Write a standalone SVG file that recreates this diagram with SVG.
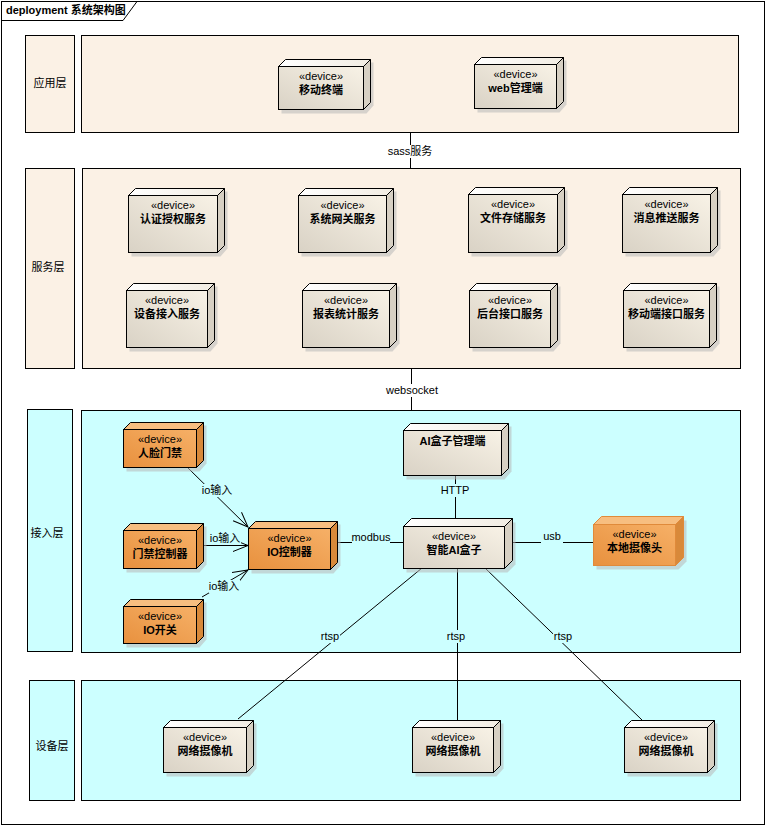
<svg xmlns="http://www.w3.org/2000/svg" width="766" height="826" viewBox="0 0 766 826">
<defs>
<linearGradient id="gFront" x1="0" y1="1" x2="1" y2="0">
<stop offset="0" stop-color="#D9D2C5"/><stop offset="1" stop-color="#F8F2E6"/>
</linearGradient>
<linearGradient id="gTop" x1="0" y1="0" x2="1" y2="0">
<stop offset="0" stop-color="#FFFFFF"/><stop offset="1" stop-color="#F1ECE2"/>
</linearGradient>
<linearGradient id="gOFront" x1="0" y1="1" x2="1" y2="0">
<stop offset="0" stop-color="#E8913E"/><stop offset="1" stop-color="#F6B067"/>
</linearGradient>
<marker id="open" viewBox="-16 -8 18 16" refX="0" refY="0" markerWidth="18" markerHeight="16" markerUnits="userSpaceOnUse" orient="auto">
<path d="M-15,-6 L0,0 L-15,6" fill="none" stroke="#000" stroke-width="1"/>
</marker>
<style>
text{font-family:"Liberation Sans","Noto Sans CJK SC",sans-serif;font-size:11px;fill:#000}
.b{font-weight:bold}
.c{text-anchor:middle}
.frame{fill:#fff;stroke:#000;stroke-width:1}
.cream{fill:#FBF1E5;stroke:#000;stroke-width:1}
.cyan{fill:#CCFFFF;stroke:#000;stroke-width:1}
.sh{fill:#B8B8B8;opacity:0.55}
.top{fill:url(#gTop);stroke:#000;stroke-width:1;stroke-linejoin:round}
.side{fill:#D7D0C3;stroke:#000;stroke-width:1;stroke-linejoin:round}
.front{fill:url(#gFront);stroke:#000;stroke-width:1}
.otop{fill:#F7BE80;stroke:#000;stroke-width:1;stroke-linejoin:round}
.oside{fill:#D8893A;stroke:#000;stroke-width:1;stroke-linejoin:round}
.ofront{fill:url(#gOFront);stroke:#000;stroke-width:1}
.lc .otop,.lc .oside,.lc .ofront{stroke:#E08A3A}
.conn line{stroke:#000;stroke-width:1}
.lbw{fill:#fff}
.lbc{fill:#CCFFFF}
</style>
</defs>

<!-- outer frame -->
<rect class="frame" x="1.5" y="1.5" width="763" height="823"/>
<path d="M1.5,20.5 H123 L137,1.5" fill="none" stroke="#000"/>
<text class="b" x="6" y="14">deployment 系统架构图</text>

<!-- layers -->
<g id="layer-app">
<rect class="cream" x="25.5" y="35.5" width="49" height="97"/>
<text class="c" x="50" y="87">应用层</text>
<rect class="cream" x="81.5" y="35.5" width="657" height="97"/>
</g>
<g id="layer-service">
<rect class="cream" x="25.5" y="168.5" width="49" height="200"/>
<text class="c" x="48" y="271">服务层</text>
<rect class="cream" x="82.5" y="168.5" width="658" height="200"/>
</g>
<g id="layer-access">
<rect class="cyan" x="27.5" y="409.5" width="45" height="242"/>
<text class="c" x="47" y="537">接入层</text>
<rect class="cyan" x="81.5" y="410.5" width="659" height="242"/>
</g>
<g id="layer-device">
<rect class="cyan" x="29.5" y="680.5" width="45" height="120"/>
<text class="c" x="52" y="750">设备层</text>
<rect class="cyan" x="81.5" y="680.5" width="659" height="120"/>
</g>

<!-- connectors -->
<g id="connectors" class="conn">
<line x1="410.5" y1="133" x2="410.5" y2="168"/>
<line x1="411.5" y1="369" x2="411.5" y2="410"/>
<line x1="455.5" y1="475" x2="455.5" y2="526"/>
<line x1="512" y1="542.5" x2="593" y2="542.5"/>
<line x1="337" y1="542.5" x2="403" y2="542.5"/>
<line x1="187" y1="467" x2="248" y2="527" marker-end="url(#open)"/>
<line x1="196" y1="545.5" x2="248" y2="545.5" marker-end="url(#open)"/>
<line x1="202" y1="597" x2="248" y2="570" marker-end="url(#open)"/>
<line x1="422" y1="568" x2="238" y2="719"/>
<line x1="457.5" y1="568" x2="457.5" y2="720"/>
<line x1="485" y1="568" x2="642" y2="720"/>
<rect class="lbw" x="389" y="145" width="42" height="13"/>
<text class="c" x="410" y="155">sass服务</text>
<rect class="lbw" x="388" y="384" width="47" height="13"/>
<text class="c" x="412" y="394">websocket</text>
<rect class="lbc" x="440" y="484" width="31" height="13"/>
<text class="c" x="455" y="494">HTTP</text>
<rect class="lbc" x="541" y="530" width="22" height="13"/>
<text class="c" x="552" y="540">usb</text>
<rect class="lbc" x="352" y="531" width="38" height="13"/>
<text class="c" x="371" y="541">modbus</text>
<rect class="lbc" x="202" y="484" width="31" height="13"/>
<text class="c" x="217" y="494">io输入</text>
<rect class="lbc" x="210" y="532" width="31" height="12"/>
<text class="c" x="225" y="542">io输入</text>
<rect class="lbc" x="209" y="580" width="31" height="13"/>
<text class="c" x="224" y="590">io输入</text>
<rect class="lbc" x="320" y="630" width="20" height="13"/>
<text class="c" x="330" y="640">rtsp</text>
<rect class="lbc" x="447" y="630" width="20" height="13"/>
<text class="c" x="456" y="640">rtsp</text>
<rect class="lbc" x="553" y="630" width="20" height="13"/>
<text class="c" x="563" y="640">rtsp</text>
</g>

<!-- nodes: app layer -->
<g id="node-mobile" transform="translate(278.5,66.5)">
<polygon class="sh" points="10,-4 95,-4 95,39 88,47 3,47 3,4"/>
<polygon class="top" points="0,0 7,-7 92,-7 85,0"/>
<polygon class="side" points="85,0 92,-7 92,36 85,43"/>
<rect class="front" x="0" y="0" width="85" height="43"/>
<text class="c" x="42.5" y="13">«device»</text>
<text class="c b" x="42.5" y="27">移动终端</text>
</g>
<g id="node-web" transform="translate(474.5,64.5)">
<polygon class="sh" points="10,-4 92,-4 92,40 85,48 3,48 3,4"/>
<polygon class="top" points="0,0 7,-7 89,-7 82,0"/>
<polygon class="side" points="82,0 89,-7 89,37 82,44"/>
<rect class="front" x="0" y="0" width="82" height="44"/>
<text class="c" x="41" y="13">«device»</text>
<text class="c b" x="41" y="27">web管理端</text>
</g>

<!-- nodes: service layer -->
<g id="node-auth" transform="translate(128.5,195.5)">
<polygon class="sh" points="10,-4 99,-4 99,53 92,61 3,61 3,4"/>
<polygon class="top" points="0,0 7,-7 96,-7 89,0"/>
<polygon class="side" points="89,0 96,-7 96,50 89,57"/>
<rect class="front" x="0" y="0" width="89" height="57"/>
<text class="c" x="44.5" y="13">«device»</text>
<text class="c b" x="44.5" y="27">认证授权服务</text>
</g>
<g id="node-gateway" transform="translate(298.5,195.5)">
<polygon class="sh" points="10,-4 98,-4 98,53 91,61 3,61 3,4"/>
<polygon class="top" points="0,0 7,-7 95,-7 88,0"/>
<polygon class="side" points="88,0 95,-7 95,50 88,57"/>
<rect class="front" x="0" y="0" width="88" height="57"/>
<text class="c" x="44" y="13">«device»</text>
<text class="c b" x="44" y="27">系统网关服务</text>
</g>
<g id="node-file" transform="translate(468.5,194.5)">
<polygon class="sh" points="10,-4 99,-4 99,54 92,62 3,62 3,4"/>
<polygon class="top" points="0,0 7,-7 96,-7 89,0"/>
<polygon class="side" points="89,0 96,-7 96,51 89,58"/>
<rect class="front" x="0" y="0" width="89" height="58"/>
<text class="c" x="44.5" y="13">«device»</text>
<text class="c b" x="44.5" y="27">文件存储服务</text>
</g>
<g id="node-msg" transform="translate(622.5,194.5)">
<polygon class="sh" points="10,-4 98,-4 98,54 91,62 3,62 3,4"/>
<polygon class="top" points="0,0 7,-7 95,-7 88,0"/>
<polygon class="side" points="88,0 95,-7 95,51 88,58"/>
<rect class="front" x="0" y="0" width="88" height="58"/>
<text class="c" x="44" y="13">«device»</text>
<text class="c b" x="44" y="27">消息推送服务</text>
</g>
<g id="node-devaccess" transform="translate(126.5,290.5)">
<polygon class="sh" points="10,-4 91,-4 91,53 84,61 3,61 3,4"/>
<polygon class="top" points="0,0 7,-7 88,-7 81,0"/>
<polygon class="side" points="81,0 88,-7 88,50 81,57"/>
<rect class="front" x="0" y="0" width="81" height="57"/>
<text class="c" x="40.5" y="13">«device»</text>
<text class="c b" x="40.5" y="27">设备接入服务</text>
</g>
<g id="node-report" transform="translate(302.5,290.5)">
<polygon class="sh" points="10,-4 97,-4 97,53 90,61 3,61 3,4"/>
<polygon class="top" points="0,0 7,-7 94,-7 87,0"/>
<polygon class="side" points="87,0 94,-7 94,50 87,57"/>
<rect class="front" x="0" y="0" width="87" height="57"/>
<text class="c" x="43.5" y="13">«device»</text>
<text class="c b" x="43.5" y="27">报表统计服务</text>
</g>
<g id="node-backend" transform="translate(469.5,290.5)">
<polygon class="sh" points="10,-4 91,-4 91,53 84,61 3,61 3,4"/>
<polygon class="top" points="0,0 7,-7 88,-7 81,0"/>
<polygon class="side" points="81,0 88,-7 88,50 81,57"/>
<rect class="front" x="0" y="0" width="81" height="57"/>
<text class="c" x="40.5" y="13">«device»</text>
<text class="c b" x="40.5" y="27">后台接口服务</text>
</g>
<g id="node-mobileapi" transform="translate(623.5,290.5)">
<polygon class="sh" points="10,-4 96,-4 96,53 89,61 3,61 3,4"/>
<polygon class="top" points="0,0 7,-7 93,-7 86,0"/>
<polygon class="side" points="86,0 93,-7 93,50 86,57"/>
<rect class="front" x="0" y="0" width="86" height="57"/>
<text class="c" x="43" y="13">«device»</text>
<text class="c b" x="43" y="27">移动端接口服务</text>
</g>

<!-- nodes: access layer -->
<g id="node-face" transform="translate(123.5,429.5)">
<polygon class="sh" points="10,-4 83,-4 83,34 76,42 3,42 3,4"/>
<polygon class="otop" points="0,0 7,-7 80,-7 73,0"/>
<polygon class="oside" points="73,0 80,-7 80,31 73,38"/>
<rect class="ofront" x="0" y="0" width="73" height="38"/>
<text class="c" x="36.5" y="13">«device»</text>
<text class="c b" x="36.5" y="27">人脸门禁</text>
</g>
<g id="node-doorctrl" transform="translate(123.5,530.5)">
<polygon class="sh" points="10,-4 83,-4 83,34 76,42 3,42 3,4"/>
<polygon class="otop" points="0,0 7,-7 80,-7 73,0"/>
<polygon class="oside" points="73,0 80,-7 80,31 73,38"/>
<rect class="ofront" x="0" y="0" width="73" height="38"/>
<text class="c" x="36.5" y="13">«device»</text>
<text class="c b" x="36.5" y="27">门禁控制器</text>
</g>
<g id="node-ioswitch" transform="translate(123.5,606.5)">
<polygon class="sh" points="10,-4 83,-4 83,33 76,41 3,41 3,4"/>
<polygon class="otop" points="0,0 7,-7 80,-7 73,0"/>
<polygon class="oside" points="73,0 80,-7 80,30 73,37"/>
<rect class="ofront" x="0" y="0" width="73" height="37"/>
<text class="c" x="36.5" y="13">«device»</text>
<text class="c b" x="36.5" y="27">IO开关</text>
</g>
<g id="node-ioctrl" transform="translate(248.5,528.5)">
<polygon class="sh" points="10,-4 92,-4 92,37 85,45 3,45 3,4"/>
<polygon class="otop" points="0,0 7,-7 89,-7 82,0"/>
<polygon class="oside" points="82,0 89,-7 89,34 82,41"/>
<rect class="ofront" x="0" y="0" width="82" height="41"/>
<text class="c" x="41" y="13">«device»</text>
<text class="c b" x="41" y="27">IO控制器</text>
</g>
<g id="node-aimgr" transform="translate(403.5,430.5)">
<polygon class="sh" points="10,-4 108,-4 108,41 101,49 3,49 3,4"/>
<polygon class="top" points="0,0 7,-7 105,-7 98,0"/>
<polygon class="side" points="98,0 105,-7 105,38 98,45"/>
<rect class="front" x="0" y="0" width="98" height="45"/>
<text class="c b" x="49" y="14">AI盒子管理端</text>
</g>
<g id="node-aibox" transform="translate(403.5,526.5)">
<polygon class="sh" points="11,-4 112,-4 112,38 104,46 3,46 3,4"/>
<polygon class="top" points="0,0 8,-8 109,-8 101,0"/>
<polygon class="side" points="101,0 109,-8 109,34 101,42"/>
<rect class="front" x="0" y="0" width="101" height="42"/>
<text class="c" x="50.5" y="13">«device»</text>
<text class="c b" x="50.5" y="27">智能AI盒子</text>
</g>
<g id="node-localcam" class="lc" transform="translate(593.5,524.5)">
<polygon class="sh" points="11,-4 93,-4 93,37 85,45 3,45 3,4"/>
<polygon class="otop" points="0,0 8,-8 90,-8 82,0"/>
<polygon class="oside" points="82,0 90,-8 90,33 82,41"/>
<rect class="ofront" x="0" y="0" width="82" height="41"/>
<text class="c" x="41" y="13">«device»</text>
<text class="c b" x="41" y="27">本地摄像头</text>
</g>

<!-- nodes: device layer -->
<g id="node-cam1" transform="translate(163.5,727.5)">
<polygon class="sh" points="10,-4 93,-4 93,41 86,49 3,49 3,4"/>
<polygon class="top" points="0,0 7,-7 90,-7 83,0"/>
<polygon class="side" points="83,0 90,-7 90,38 83,45"/>
<rect class="front" x="0" y="0" width="83" height="45"/>
<text class="c" x="41.5" y="13">«device»</text>
<text class="c b" x="41.5" y="27">网络摄像机</text>
</g>
<g id="node-cam2" transform="translate(412.5,727.5)">
<polygon class="sh" points="10,-4 91,-4 91,41 84,49 3,49 3,4"/>
<polygon class="top" points="0,0 7,-7 88,-7 81,0"/>
<polygon class="side" points="81,0 88,-7 88,38 81,45"/>
<rect class="front" x="0" y="0" width="81" height="45"/>
<text class="c" x="40.5" y="13">«device»</text>
<text class="c b" x="40.5" y="27">网络摄像机</text>
</g>
<g id="node-cam3" transform="translate(624.5,727.5)">
<polygon class="sh" points="10,-4 93,-4 93,41 86,49 3,49 3,4"/>
<polygon class="top" points="0,0 7,-7 90,-7 83,0"/>
<polygon class="side" points="83,0 90,-7 90,38 83,45"/>
<rect class="front" x="0" y="0" width="83" height="45"/>
<text class="c" x="41.5" y="13">«device»</text>
<text class="c b" x="41.5" y="27">网络摄像机</text>
</g>
</svg>
